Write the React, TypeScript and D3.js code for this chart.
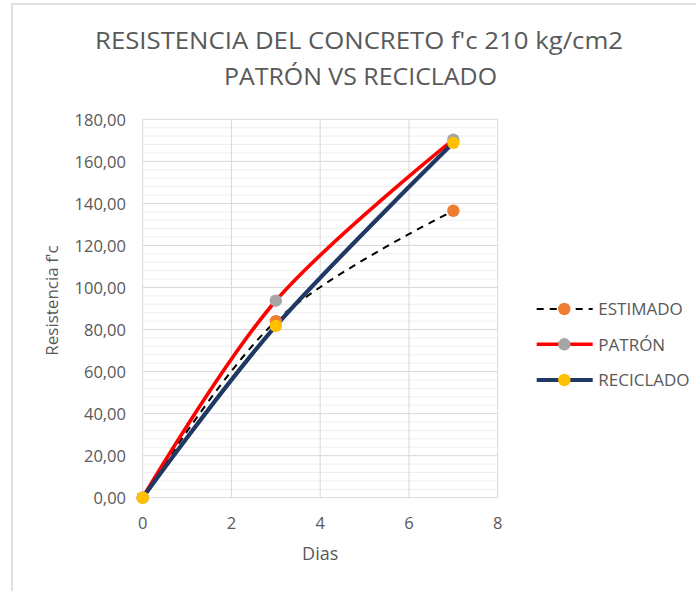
import React from "react";
import * as d3 from "d3";

// Concrete strength (f'c 210 kg/cm2) by curing age, in days
const dias = [0, 3, 7];
const estimado = [0, 84, 136.5];
const patron = [0, 93.7, 170.3];
const reciclado = [0, 81.7, 168.8];

const xTicks = [0, 2, 4, 6, 8];
const yTicks = [0, 20, 40, 60, 80, 100, 120, 140, 160, 180];
const yMinorStep = 4;

const titleLines = ["RESISTENCIA DEL CONCRETO f'c 210 kg/cm2", "PATRÓN VS RECICLADO"];
const xAxisTitle = "Dias";
const yAxisTitle = "Resistencia f'c";

type Series = {
  name: string;
  values: number[];
  stroke: string;
  width: number;
  dash?: string;
  marker: string;
};

const series: Series[] = [
  { name: "ESTIMADO", values: estimado, stroke: "#000000", width: 2, dash: "7,6", marker: "#ED7D31" },
  { name: "PATRÓN", values: patron, stroke: "#FF0000", width: 3.6, marker: "#A5A5A5" },
  { name: "RECICLADO", values: reciclado, stroke: "#1F3864", width: 4.2, marker: "#FFC000" },
];

const W = 696;
const H = 591;
const FONT = "'Open Sans', 'Noto Sans', sans-serif";
const TEXT = "#595959";

const x = d3.scaleLinear().domain([0, 8]).range([142.7, 497.7]);
const y = d3.scaleLinear().domain([0, 180]).range([497.7, 119.3]);

const esLocale = d3.formatLocale({ decimal: ",", thousands: ".", grouping: [3], currency: ["", ""] });
const fmtY = esLocale.format(".2f");

const line = d3
  .line<[number, number]>()
  .x((d) => x(d[0]))
  .y((d) => y(d[1]))
  .curve(d3.curveCardinal.tension(0));

export default function App() {
  const minor = d3.range(0, 180 + 0.001, yMinorStep).filter((v) => v % 20 !== 0);
  const legendRows = [309, 344.3, 380];

  return (
    <svg
      width={W}
      height={H}
      viewBox={`0 0 ${W} ${H}`}
      style={{ position: "absolute", left: 0, top: 0, background: "#fff" }}
      fontFamily={FONT}
    >
      <rect x={0} y={0} width={W} height={H} fill="#ffffff" />
      {/* chart frame */}
      <rect x={12} y={4} width={W + 20} height={H + 20} fill="none" stroke="#d9d9d9" strokeWidth={1.6} />

      {/* title */}
      <text x={95} y={49.3} fontSize={24} fill={TEXT} textLength={528} lengthAdjust="spacingAndGlyphs">
        {titleLines[0]}
      </text>
      <text x={224} y={85} fontSize={24} fill={TEXT} textLength={273} lengthAdjust="spacingAndGlyphs">
        {titleLines[1]}
      </text>

      {/* minor gridlines */}
      {minor.map((v) => (
        <line key={`m${v}`} x1={x(0)} x2={x(8)} y1={y(v)} y2={y(v)} stroke="#eeeeee" strokeWidth={1} />
      ))}
      {/* major gridlines */}
      {yTicks.map((v) => (
        <line key={`h${v}`} x1={x(0)} x2={x(8)} y1={y(v)} y2={y(v)} stroke="#d9d9d9" strokeWidth={1} />
      ))}
      {xTicks.map((v) => (
        <line key={`v${v}`} x1={x(v)} x2={x(v)} y1={y(0)} y2={y(180)} stroke="#d9d9d9" strokeWidth={1} />
      ))}

      {/* y tick labels */}
      {yTicks.map((v) => (
        <text key={`yl${v}`} x={126} y={y(v) + 6.5} fontSize={16.5} fill={TEXT} textAnchor="end">
          {fmtY(v)}
        </text>
      ))}
      {/* x tick labels */}
      {xTicks.map((v) => (
        <text key={`xl${v}`} x={x(v)} y={529} fontSize={16.5} fill={TEXT} textAnchor="middle">
          {v}
        </text>
      ))}

      {/* axis titles */}
      <text x={(x(0) + x(8)) / 2} y={560} fontSize={18} fill={TEXT} textAnchor="middle">
        {xAxisTitle}
      </text>
      <text
        transform={`translate(57.5, 300.5) rotate(-90)`}
        fontSize={17}
        fill={TEXT}
        textAnchor="middle"
      >
        {yAxisTitle}
      </text>

      {/* series lines */}
      {series.map((s) => (
        <path
          key={`l${s.name}`}
          d={line(dias.map((d, i) => [d, s.values[i]] as [number, number])) || ""}
          fill="none"
          stroke={s.stroke}
          strokeWidth={s.width}
          strokeDasharray={s.dash}
          strokeLinecap={s.dash ? "butt" : "round"}
        />
      ))}
      {/* series markers */}
      {series.map((s) => (
        <g key={`p${s.name}`}>
          {dias.map((d, i) => (
            <circle key={i} cx={x(d)} cy={y(s.values[i])} r={6.2} fill={s.marker} />
          ))}
        </g>
      ))}

      {/* legend */}
      {series.map((s, i) => {
        const cy = legendRows[i];
        return (
          <g key={`lg${s.name}`}>
            <line
              x1={536.7}
              x2={592.7}
              y1={cy}
              y2={cy}
              stroke={s.stroke}
              strokeWidth={s.width}
              strokeDasharray={s.dash}
            />
            <circle cx={564.3} cy={cy} r={6.2} fill={s.marker} />
            <text x={598.3} y={cy + 6.2} fontSize={17} fill={TEXT}>
              {s.name}
            </text>
          </g>
        );
      })}
    </svg>
  );
}
